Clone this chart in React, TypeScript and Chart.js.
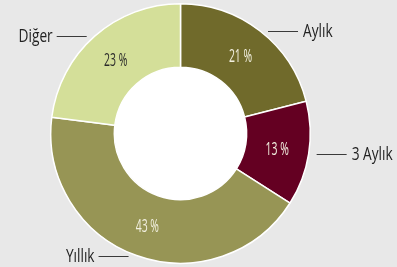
import React, { useEffect, useRef } from "react";
import { Chart, registerables } from "chart.js";

Chart.register(...registerables);

const categories = ["Aylık", "3 Aylık", "Yıllık", "Diğer"];
const values = [21, 13, 43, 23];
const valueLabels = ["21 %", "13 %", "43 %", "23 %"];
const colors = ["#706a2b", "#640022", "#979555", "#d4df99"];
const valueTextColors = ["#f2f0e0", "#f2f0e0", "#f2f0e0", "#2a2a2a"];

function drawCondensed(
  ctx: CanvasRenderingContext2D,
  text: string,
  x: number,
  y: number,
  align: CanvasTextAlign,
  size: number,
  color: string,
  sx: number
) {
  ctx.save();
  ctx.translate(x, y);
  ctx.scale(sx, 1);
  ctx.font = `${size}px "Open Sans", "Noto Sans", sans-serif`;
  ctx.fillStyle = color;
  ctx.textAlign = align;
  ctx.textBaseline = "middle";
  ctx.fillText(text, 0, 0);
  ctx.restore();
}

const labelPlugin = {
  id: "labelPlugin",
  beforeDatasetsDraw(chart: any) {
    const meta = chart.getDatasetMeta(0);
    const arc = meta.data[0];
    if (!arc) return;
    const { x, y, innerRadius } = arc.getProps(["x", "y", "innerRadius"], true);
    const ctx = chart.ctx;
    ctx.save();
    ctx.fillStyle = "#ffffff";
    ctx.beginPath();
    ctx.arc(x, y, innerRadius, 0, Math.PI * 2);
    ctx.fill();
    ctx.restore();
  },
  afterDatasetsDraw(chart: any) {
    const ctx = chart.ctx;
    const meta = chart.getDatasetMeta(0);
    meta.data.forEach((el: any, i: number) => {
      const { x, y, startAngle, endAngle, innerRadius, outerRadius } = el.getProps(
        ["x", "y", "startAngle", "endAngle", "innerRadius", "outerRadius"],
        true
      );
      const mid = (startAngle + endAngle) / 2;
      const rMid = (innerRadius + outerRadius) / 2;
      const px = x + Math.cos(mid) * rMid;
      const py = y + Math.sin(mid) * rMid;
      drawCondensed(ctx, valueLabels[i], px, py + 1, "center", 18, valueTextColors[i], 0.58);

      // outer label with horizontal leader line
      const ly = y + Math.sin(mid) * outerRadius;
      const dy = ly - y;
      const edgeDx = Math.sqrt(Math.max(outerRadius * outerRadius - dy * dy, 0));
      const right = Math.cos(mid) >= 0;
      const gap = 8;
      const len = 30;
      const lyR = Math.round(ly) + 0.5;
      ctx.save();
      ctx.strokeStyle = "#3a3a3a";
      ctx.lineWidth = 1;
      ctx.beginPath();
      if (right) {
        const x0 = x + edgeDx + gap;
        ctx.moveTo(x0, lyR);
        ctx.lineTo(x0 + len, lyR);
        ctx.stroke();
        ctx.restore();
        drawCondensed(ctx, categories[i], x0 + len + 5, ly + 1, "left", 18, "#222222", 0.76);
      } else {
        const x0 = x - edgeDx - gap;
        ctx.moveTo(x0, lyR);
        ctx.lineTo(x0 - len, lyR);
        ctx.stroke();
        ctx.restore();
        drawCondensed(ctx, categories[i], x0 - len - 4, ly + 1, "right", 18, "#222222", 0.76);
      }
    });
  },
};

export default function App() {
  const ref = useRef<HTMLCanvasElement>(null);
  useEffect(() => {
    document.body.style.margin = "0";
    const chart = new Chart(ref.current!, {
      type: "doughnut",
      data: {
        labels: categories,
        datasets: [
          {
            data: values,
            backgroundColor: colors,
            borderColor: "#ffffff",
            borderWidth: 1.5,
          },
        ],
      },
      options: {
        animation: false,
        responsive: false,
        cutout: "51%",
        layout: { padding: { top: 3, bottom: 3, left: 50, right: 86 } },
        plugins: { legend: { display: false }, tooltip: { enabled: false } },
      },
      plugins: [labelPlugin],
    });
    return () => chart.destroy();
  }, []);
  return (
    <div style={{ width: 397, height: 267, background: "#e8e8e8" }}>
      <canvas ref={ref} width={397} height={267} style={{ display: "block" }} />
    </div>
  );
}
